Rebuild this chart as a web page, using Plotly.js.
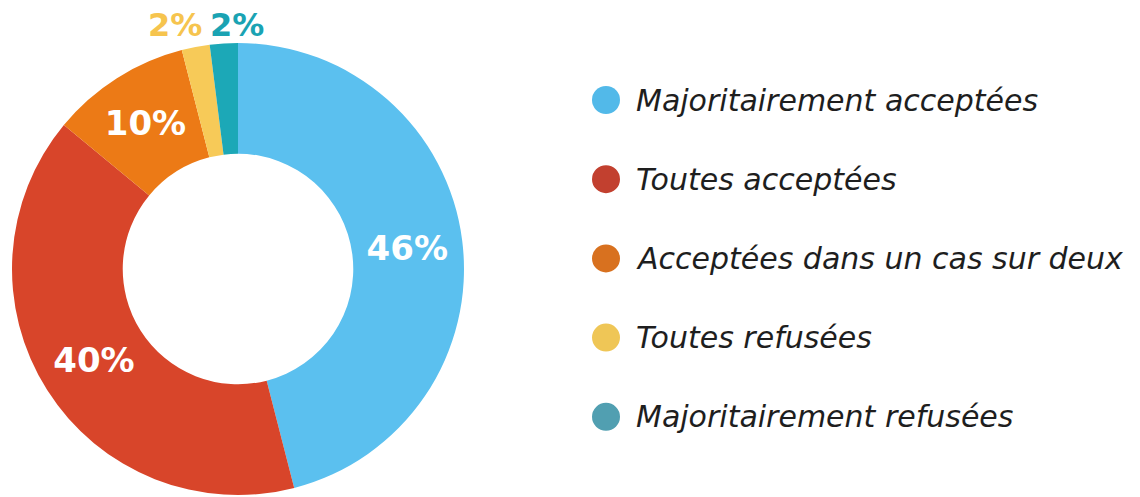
<!DOCTYPE html>
<html>
<head>
<meta charset="utf-8">
<script src="https://cdn.plot.ly/plotly-3.0.1.min.js"></script>
<style>html,body{margin:0;padding:0;background:#fff}#chart{width:1140px;height:497px}</style>
</head>
<body>
<div id="chart"></div>
<script>
const categories = ["Majoritairement acceptées", "Toutes acceptées", "Acceptées dans un cas sur deux", "Toutes refusées", "Majoritairement refusées"];
const shares = [46, 40, 10, 2, 2];
const sliceColors = ["#5bc0ef", "#d8452a", "#ec7a16", "#f7ca58", "#1ca8b7"];
const labelColors = ["#ffffff", "#ffffff", "#ffffff", "#f6c44e", "#1aa3b3"];
const legendColors = ["#52b9e9", "#c2402f", "#d8711f", "#efc656", "#519fb1"];
const labelInside = [true, true, true, false, false];

const W = 1140, H = 497;
const cx = 238, cy = 269, R = 226;
const pctFont = {family: "DejaVu Sans", size: 34, weight: 700};

const pie = {
  type: "pie",
  labels: categories,
  values: shares,
  sort: false,
  direction: "clockwise",
  rotation: 0,
  hole: 0.51,
  marker: {colors: sliceColors, line: {width: 0}},
  texttemplate: "%{value}%",
  textposition: labelInside.map(v => v ? "inside" : "none"),
  insidetextorientation: "horizontal",
  insidetextfont: Object.assign({color: "#ffffff"}, pctFont),
  showlegend: false,
  hoverinfo: "none",
  domain: {x: [(cx - R) / W, (cx + R) / W], y: [(H - cy - R) / H, (H - cy + R) / H]}
};

const shapes = [], annotations = [];

// outside labels for the small slices: set side by side above the arc they share
const total = shares.reduce((a, b) => a + b, 0);
let cum = 0;
const outside = [];
shares.forEach((v, i) => {
  if (!labelInside[i]) outside.push({i: i, a0: cum / total, a1: (cum + v) / total});
  cum += v;
});
if (outside.length) {
  const mid = (outside[0].a0 + outside[outside.length - 1].a1) / 2 * 2 * Math.PI;
  const px = cx + R * Math.sin(mid);
  const py = cy - R - 18;
  outside.forEach((o, k) => {
    annotations.push({
      xref: "paper", yref: "paper", x: px / W, y: 1 - py / H,
      xanchor: k === 0 ? "right" : "left", yanchor: "middle",
      xshift: k === 0 ? -6 : -2,
      showarrow: false,
      text: shares[o.i] + "%",
      font: Object.assign({color: labelColors[o.i]}, pctFont, {size: 32})
    });
  });
}

const legX = 606, legY0 = 100, legStep = 79.2, dotR = 14;
categories.forEach((c, i) => {
  const y = legY0 + i * legStep;
  shapes.push({
    type: "circle", xref: "paper", yref: "paper",
    xsizemode: "pixel", ysizemode: "pixel",
    xanchor: legX / W, yanchor: 1 - y / H,
    x0: -dotR, x1: dotR, y0: -dotR, y1: dotR,
    fillcolor: legendColors[i], line: {width: 0}
  });
  annotations.push({
    xref: "paper", yref: "paper", x: 634 / W, y: 1 - y / H,
    xanchor: "left", yanchor: "middle", showarrow: false,
    text: "<i>" + c + "</i>",
    font: {family: "DejaVu Sans", size: 30, color: "#1e1e1e"}
  });
});

const layout = {
  width: W, height: H,
  margin: {l: 0, r: 0, t: 0, b: 0},
  paper_bgcolor: "#ffffff",
  plot_bgcolor: "#ffffff",
  shapes: shapes,
  annotations: annotations
};

Plotly.newPlot("chart", [pie], layout, {displayModeBar: false, staticPlot: true});
</script>
</body>
</html>
